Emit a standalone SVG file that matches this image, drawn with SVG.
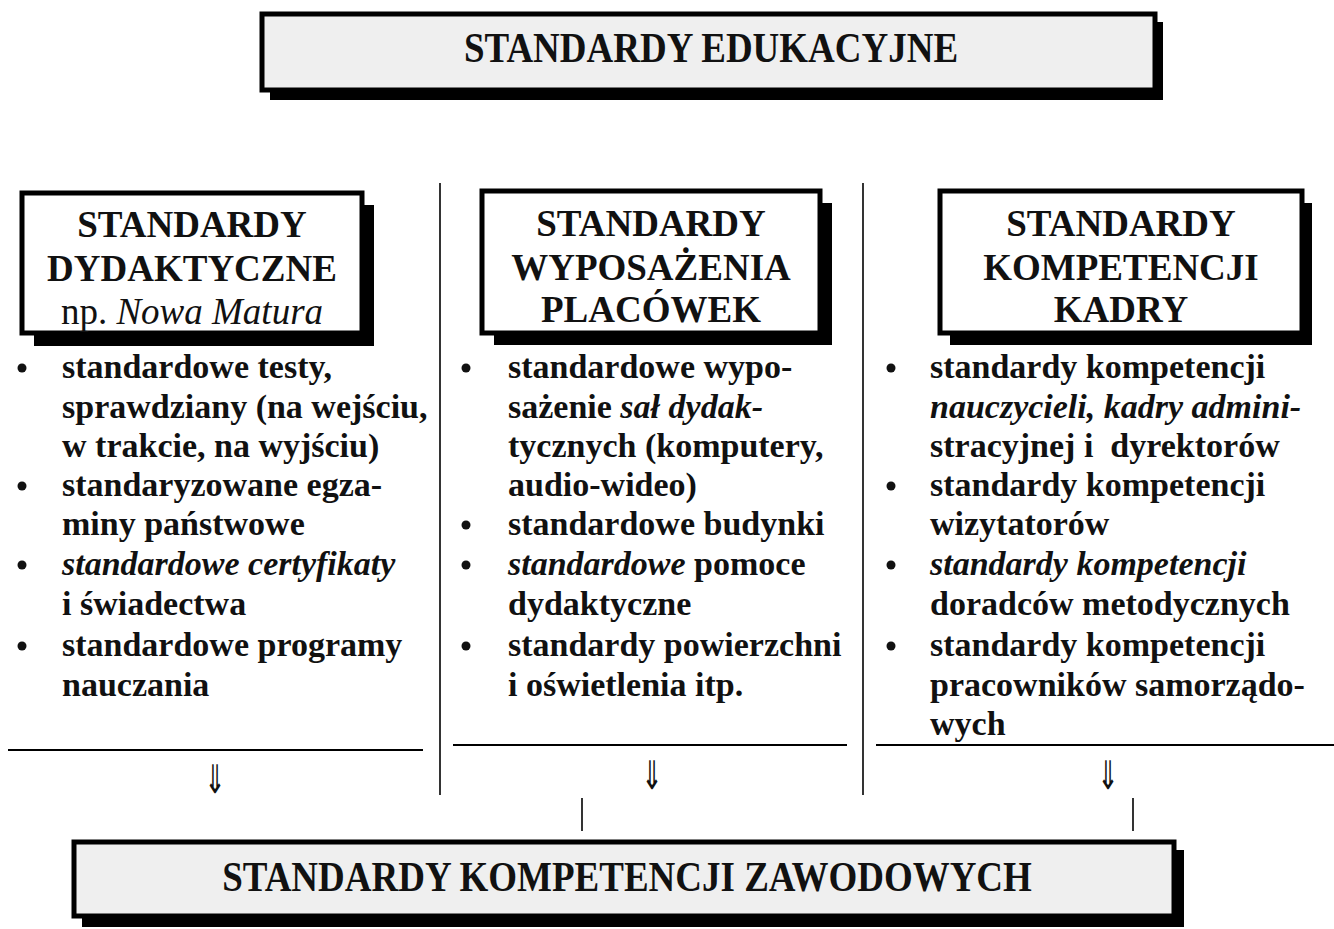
<svg xmlns="http://www.w3.org/2000/svg" width="1334" height="929" viewBox="0 0 1334 929">
<defs>
<style>
.box{fill:#ffffff;stroke:#000;stroke-width:5}
.gbox{fill:#efefef;stroke:#000;stroke-width:5}
.shadow{fill:#000}
.hdr{font-family:"Liberation Serif","Times New Roman",serif;font-weight:bold;font-size:37px;text-anchor:middle;fill:#111}
.big{font-family:"Liberation Serif","Times New Roman",serif;font-weight:bold;font-size:37px;text-anchor:middle;fill:#111}
.body{font-family:"Liberation Serif","Times New Roman",serif;font-weight:bold;font-size:34px;fill:#111}
.it{font-style:italic}
.line{stroke:#000;stroke-width:1.6;fill:none}
.hline{stroke:#000;stroke-width:2.2;fill:none}
.arrow{font-family:"DejaVu Sans",sans-serif;font-size:36px;text-anchor:middle;fill:#111}
.dot{fill:#111}
</style>
</defs>
<rect width="1334" height="929" fill="#fff"/>

<g id="top">
<rect class="shadow" x="270" y="22" width="893" height="78"/>
<rect class="gbox" x="262" y="14" width="893" height="76"/>
<text class="big" transform="translate(711,62) scale(1,1.15)">STANDARDY EDUKACYJNE</text>
</g>

<g id="col1">
<rect class="shadow" x="34" y="205" width="340" height="141"/>
<rect class="box" x="22" y="193" width="340" height="140"/>
<text class="hdr" x="192" y="237">STANDARDY</text>
<text class="hdr" x="192" y="281">DYDAKTYCZNE</text>
<text class="hdr" x="192" y="324" style="font-weight:normal">np. <tspan class="it">Nowa Matura</tspan></text>
<circle class="dot" cx="22" cy="368" r="4.5"/>
<circle class="dot" cx="22" cy="486" r="4.5"/>
<circle class="dot" cx="22" cy="565" r="4.5"/>
<circle class="dot" cx="22" cy="646" r="4.5"/>
<text class="body" x="62" y="378">standardowe testy,</text>
<text class="body" x="62" y="418">sprawdziany (na wejściu,</text>
<text class="body" x="62" y="457">w trakcie, na wyjściu)</text>
<text class="body" x="62" y="496">standaryzowane egza-</text>
<text class="body" x="62" y="535">miny państwowe</text>
<text class="body it" x="62" y="575">standardowe certyfikaty</text>
<text class="body" x="62" y="615">i świadectwa</text>
<text class="body" x="62" y="656">standardowe programy</text>
<text class="body" x="62" y="696">nauczania</text>
</g>

<g id="col2">
<rect class="shadow" x="494" y="203" width="338" height="142"/>
<rect class="box" x="482" y="191" width="338" height="142"/>
<text class="hdr" x="651" y="236">STANDARDY</text>
<text class="hdr" x="651" y="280">WYPOSAŻENIA</text>
<text class="hdr" x="651" y="322">PLACÓWEK</text>
<circle class="dot" cx="466" cy="368" r="4.5"/>
<circle class="dot" cx="466" cy="525" r="4.5"/>
<circle class="dot" cx="466" cy="565" r="4.5"/>
<circle class="dot" cx="466" cy="646" r="4.5"/>
<text class="body" x="508" y="378">standardowe wypo-</text>
<text class="body" x="508" y="418">sażenie <tspan class="it">sał dydak-</tspan></text>
<text class="body" x="508" y="457">tycznych (komputery,</text>
<text class="body" x="508" y="496">audio-wideo)</text>
<text class="body" x="508" y="535">standardowe budynki</text>
<text class="body" x="508" y="575"><tspan class="it">standardowe</tspan> pomoce</text>
<text class="body" x="508" y="615">dydaktyczne</text>
<text class="body" x="508" y="656">standardy powierzchni</text>
<text class="body" x="508" y="696">i oświetlenia itp.</text>
</g>

<g id="col3">
<rect class="shadow" x="950" y="203" width="362" height="142"/>
<rect class="box" x="940" y="191" width="362" height="142"/>
<text class="hdr" x="1121" y="236">STANDARDY</text>
<text class="hdr" x="1121" y="280">KOMPETENCJI</text>
<text class="hdr" x="1121" y="322">KADRY</text>
<circle class="dot" cx="891" cy="368" r="4.5"/>
<circle class="dot" cx="891" cy="486" r="4.5"/>
<circle class="dot" cx="891" cy="565" r="4.5"/>
<circle class="dot" cx="891" cy="646" r="4.5"/>
<text class="body" x="930" y="378">standardy kompetencji</text>
<text class="body it" x="930" y="418">nauczycieli, kadry admini-</text>
<text class="body" x="930" y="457" xml:space="preserve">stracyjnej i  dyrektorów</text>
<text class="body" x="930" y="496">standardy kompetencji</text>
<text class="body" x="930" y="535">wizytatorów</text>
<text class="body it" x="930" y="575">standardy kompetencji</text>
<text class="body" x="930" y="615">doradców metodycznych</text>
<text class="body" x="930" y="656">standardy kompetencji</text>
<text class="body" x="930" y="696">pracowników samorządo-</text>
<text class="body" x="930" y="735">wych</text>
</g>

<g id="bottom">
<rect class="shadow" x="82" y="850" width="1102" height="77"/>
<rect class="gbox" x="74" y="842" width="1100" height="74"/>
<text class="big" transform="translate(627,891) scale(1,1.15)">STANDARDY KOMPETENCJI ZAWODOWYCH</text>
</g>

<g id="connectors">
<line class="line" x1="440" y1="183" x2="440" y2="795"/>
<line class="line" x1="863" y1="183" x2="863" y2="795"/>
<line class="hline" x1="8" y1="750" x2="423" y2="750"/>
<line class="hline" x1="453" y1="745" x2="847" y2="745"/>
<line class="hline" x1="876" y1="745" x2="1334" y2="745"/>
<text class="arrow" transform="translate(215,793) scale(0.7,1.1)">⇓</text>
<text class="arrow" transform="translate(652,789) scale(0.7,1.1)">⇓</text>
<text class="arrow" transform="translate(1108,789) scale(0.7,1.1)">⇓</text>
<line class="line" x1="582" y1="798" x2="582" y2="831"/>
<line class="line" x1="1133" y1="798" x2="1133" y2="831"/>
</g>
</svg>
